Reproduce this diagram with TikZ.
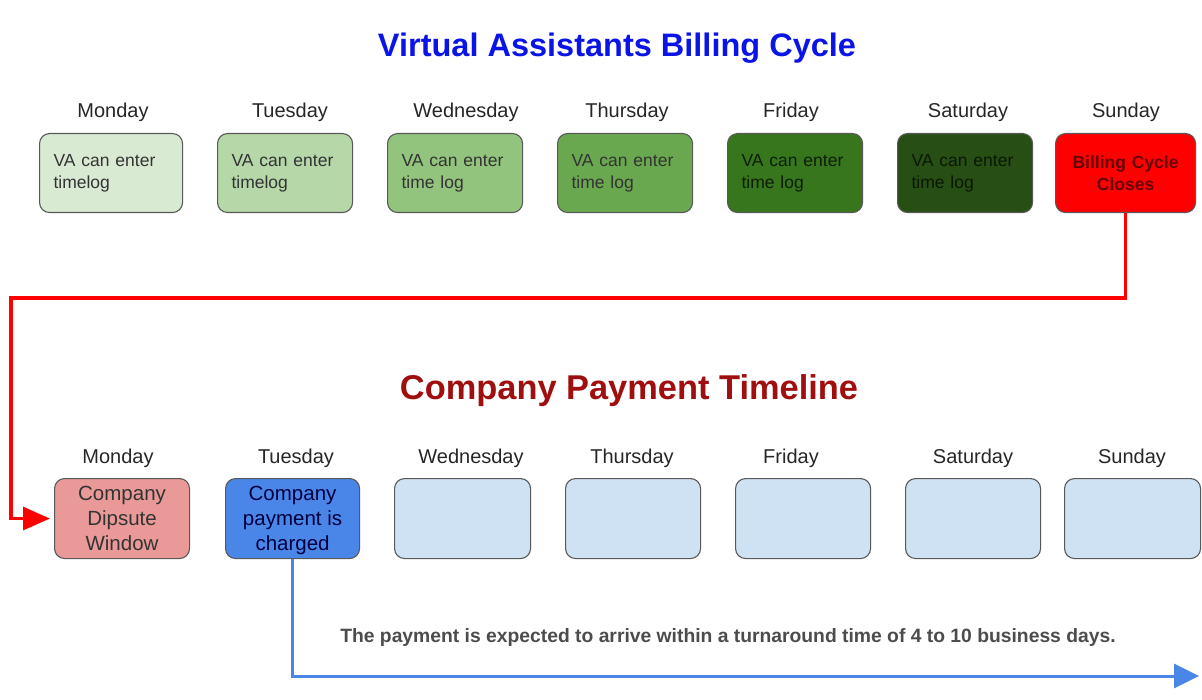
\documentclass[tikz,border=0pt]{standalone}
\usepackage{fontspec}
\setmainfont{Liberation Sans}
\usetikzlibrary{arrows.meta}
\definecolor{gA}{HTML}{D9EAD3}
\definecolor{gB}{HTML}{B6D7A8}
\definecolor{gC}{HTML}{93C47D}
\definecolor{gD}{HTML}{6AA84F}
\definecolor{gE}{HTML}{38761D}
\definecolor{gF}{HTML}{274E13}
\definecolor{pinkbox}{HTML}{EA9999}
\definecolor{bluebox}{HTML}{4A86E8}
\definecolor{lightblue}{HTML}{CFE2F3}
\definecolor{bordergray}{HTML}{595959}
\definecolor{titleblue}{HTML}{0A14E6}
\definecolor{titlered}{HTML}{A00F0F}
\definecolor{arrowblue}{HTML}{4A86E8}
\definecolor{txtgray}{HTML}{333333}
\begin{document}
\begin{tikzpicture}[x=1pt,y=-1pt,
  daylabel/.style={font=\fontsize{20}{24}\selectfont, text=black!85},
  topbox/.style={draw=bordergray, line width=1.1pt, rounded corners=10pt, anchor=north west,
     minimum height=79pt, inner xsep=14pt, inner ysep=0pt, align=left, text width=#1-28pt,
     font=\fontsize{17.5}{22}\selectfont, text=txtgray},
  botbox/.style={draw=bordergray, line width=1.1pt, rounded corners=10pt, anchor=north west,
     minimum height=80pt, inner xsep=0pt, inner ysep=0pt, align=center, text width=#1,
     minimum width=#1, font=\fontsize{20.5}{25}\selectfont, text=black!80},
  boxtext/.style={align=center, inner sep=0pt, font=\fontsize{20.5}{25}\selectfont},
  redarrow/.style={draw=red, line width=3.2pt, -{Triangle[length=27pt,width=23pt]}},
  bluearrow/.style={draw=arrowblue, line width=3pt, -{Triangle[length=25pt,width=24pt]}}
]
\useasboundingbox (0,0) rectangle (1202,700);

% titles
\node[font=\bfseries\fontsize{32.5}{36}\selectfont, text=titleblue] (t1) at (617,48) {Virtual Assistants Billing Cycle};
\node[font=\bfseries\fontsize{34.4}{38}\selectfont, text=titlered] (t2) at (629,391) {Company Payment Timeline};

% top day labels
\node[daylabel] (l1) at (113,112) {Monday};
\node[daylabel] (l2) at (290,112) {Tuesday};
\node[daylabel] (l3) at (466,112) {Wednesday};
\node[daylabel] (l4) at (627,112) {Thursday};
\node[daylabel] (l5) at (791,112) {Friday};
\node[daylabel] (l6) at (968,112) {Saturday};
\node[daylabel] (l7) at (1126,112) {Sunday};

% top boxes
\node[topbox=143pt, fill=gA] (a1) at (39,133) {VA can enter\\timelog};
\node[topbox=135pt, fill=gB] (a2) at (217,133) {VA can enter\\timelog};
\node[topbox=135pt, fill=gC] (a3) at (387,133) {VA can enter\\time log};
\node[topbox=135pt, fill=gD] (a4) at (557,133) {VA can enter\\time log};
\node[topbox=135pt, fill=gE, text=black!75!gE] (a5) at (727,133) {VA can enter\\time log};
\node[topbox=135pt, fill=gF, text=black!70!gF] (a6) at (897,133) {VA can enter\\time log};
\node[draw=bordergray, line width=1.1pt, rounded corners=10pt, anchor=north west,
     minimum height=79pt, minimum width=140pt, inner sep=0pt, text width=140pt, align=center,
     font=\bfseries\fontsize{17.5}{22}\selectfont, text=black!60!red, fill=red] (a7) at (1055,133) {Billing Cycle\\Closes};

% bottom day labels
\node[daylabel] (m1) at (118,458) {Monday};
\node[daylabel] (m2) at (296,458) {Tuesday};
\node[daylabel] (m3) at (471,458) {Wednesday};
\node[daylabel] (m4) at (632,458) {Thursday};
\node[daylabel] (m5) at (791,458) {Friday};
\node[daylabel] (m6) at (973,458) {Saturday};
\node[daylabel] (m7) at (1132,458) {Sunday};

% bottom boxes
\node[botbox=135pt, fill=pinkbox] (b1) at (54,478) {Company\\Dipsute\\Window};
\node[botbox=134pt, fill=bluebox] (b2) at (225,478) {};
\node[boxtext, text=black!75!blue] (b2t) at ([yshift=-2pt]b2.center) {Company\\payment is\\charged};
\node[botbox=136pt, fill=lightblue] (b3) at (394,478) {};
\node[botbox=135pt, fill=lightblue] (b4) at (565,478) {};
\node[botbox=135pt, fill=lightblue] (b5) at (735,478) {};
\node[botbox=135pt, fill=lightblue] (b6) at (905,478) {};
\node[botbox=136pt, fill=lightblue] (b7) at (1064,478) {};

% note
\node[font=\bfseries\fontsize{19.3}{22}\selectfont, text=black!70] (note) at (728,638)
  {The payment is expected to arrive within a turnaround time of 4 to 10 business days.};

% connectors
\coordinate (rturn) at (11,298);
\coordinate (bend) at (1199,676);
\draw[redarrow, shorten >=4pt] (a7.south) |- (rturn) |- (b1.west);
\draw[bluearrow] (b2.south) |- (bend);
\end{tikzpicture}
\end{document}
